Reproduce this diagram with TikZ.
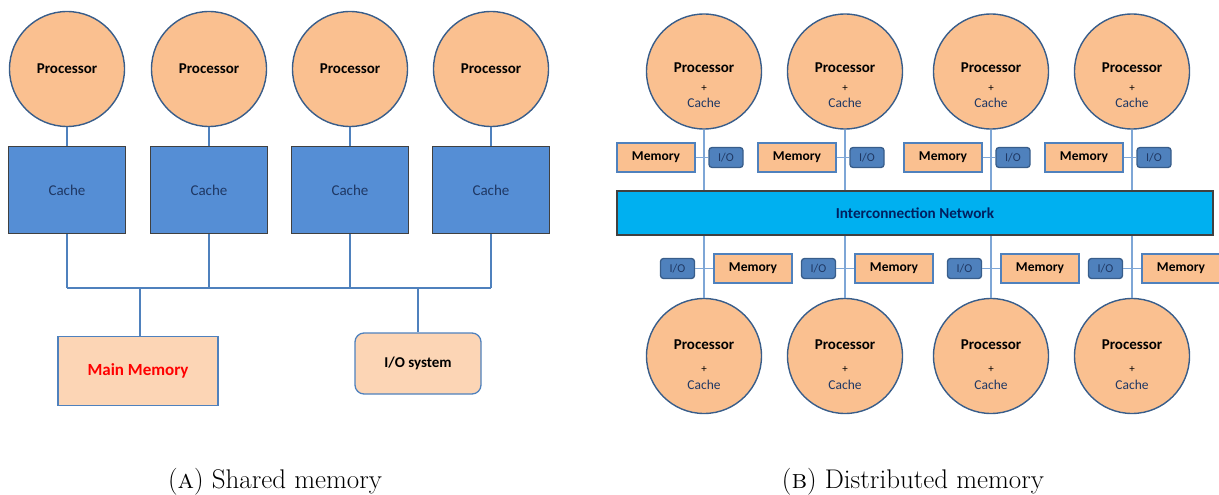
\documentclass[tikz,border=0pt]{standalone}
\usepackage{fontspec}
\newfontfamily\calibri{Carlito}
\definecolor{procfill}{HTML}{FAC090}
\definecolor{procline}{HTML}{385D8A}
\definecolor{cachefill}{HTML}{558ED5}
\definecolor{boxline}{HTML}{404040}
\definecolor{navytext}{HTML}{1F3864}
\definecolor{busline}{HTML}{4F81BD}
\definecolor{thinline}{HTML}{7EA6D6}
\definecolor{paleorange}{HTML}{FCD5B5}
\definecolor{netfill}{HTML}{00B0F0}
\definecolor{nettext}{HTML}{002060}
\tikzset{
  proc/.style={shape=circle,draw=procline,line width=1.4pt,fill=procfill,minimum size=115pt,inner sep=0pt},
  cache/.style={shape=rectangle,draw=boxline,line width=1.6pt,fill=cachefill,minimum width=117pt,minimum height=87pt,
    text=navytext,font=\calibri\fontsize{15}{18}\selectfont},
  link/.style={draw=busline,line width=1.3pt},
  bus/.style={draw=busline,line width=2.3pt},
  thin/.style={draw=thinline,line width=1.2pt},
  mem/.style={shape=rectangle,draw=busline,line width=1.3pt,fill=procfill,minimum width=78pt,minimum height=29pt,
    font=\calibri\bfseries\fontsize{13.5}{16}\selectfont},
  iobox/.style={shape=rectangle,rounded corners=3pt,draw=procline,line width=1.3pt,fill=busline,minimum width=34pt,minimum height=20pt,
    inner sep=0pt,text=navytext,font=\calibri\fontsize{12}{14}\selectfont},
  ptext/.style={align=center,font=\calibri\fontsize{15}{18}\selectfont},
  caption/.style={font=\fontsize{27}{32}\selectfont}
}
\begin{document}
\begin{tikzpicture}[x=1pt,y=-1pt]
\useasboundingbox (0,0) rectangle (1219,495);
% shared memory
\foreach \i/\x in {1/67,2/209,3/350,4/491}{
  \node(p\i) at (\x,69)[proc] {};
  \node at (p\i)[ptext] {\bfseries Processor};
  \node(c\i) at (\x,190)[cache] {Cache};
  \coordinate (b\i) at (\x,288);
  \draw[link] (p\i) -- (c\i);
  \draw[bus] (c\i) -- (b\i);
}
\draw[bus] (b1) -- (b4);
\node(mm) at (138,371)[shape=rectangle,draw=busline,line width=1.3pt,fill=paleorange,minimum width=160pt,minimum height=69pt,
  text=red,font=\calibri\bfseries\fontsize{17}{20}\selectfont] {Main Memory};
\node(ios) at (418,363.5)[shape=rectangle,rounded corners=9pt,draw=busline,line width=1.3pt,fill=paleorange,minimum width=126pt,minimum height=61pt,
  font=\calibri\bfseries\fontsize{15}{18}\selectfont] {I/O system};
\coordinate (mtap) at (140,288);
\coordinate (itap) at (418,288);
\draw[bus] (mtap) -- (mtap |- mm.north);
\draw[bus] (itap) -- (ios);
% distributed memory
\node(net) at (915,213)[shape=rectangle,draw=boxline,line width=1.6pt,fill=netfill,minimum width=596pt,minimum height=44pt,
  text=nettext,font=\calibri\bfseries\fontsize{15.2}{18}\selectfont] {Interconnection Network};
\foreach \i/\x in {1/704,2/845,3/991,4/1132}{
  \node(tp\i) at (\x,71.5)[proc] {};
  \node at ([yshift=-14pt]tp\i)[ptext] {\bfseries Processor\\[1pt]{\fontsize{11}{13}\selectfont +}\\[-2pt]{\color{navytext}\fontsize{13.5}{16}\selectfont Cache}};
  \node(tm\i) at (\x-48,157.5)[mem] {Memory};
  \node(ti\i) at (\x+22,157.5)[iobox] {I/O};
  \node(bp\i) at (\x,356)[proc] {};
  \node at ([yshift=-9pt]bp\i)[ptext] {\bfseries Processor\\[5pt]{\fontsize{11}{13}\selectfont +}\\[-1pt]{\color{navytext}\fontsize{13.5}{16}\selectfont Cache}};
  \node(bm\i) at (\x+49,268.5)[mem] {Memory};
  \node(bi\i) at (\x-26.5,268.5)[iobox] {I/O};
  \draw[thin] (tp\i) -- (tp\i |- net.north);
  \draw[thin] (tm\i) -- (ti\i);
  \draw[thin] (bp\i) -- (bp\i |- net.south);
  \draw[thin] (bi\i) -- (bm\i);
}
% captions
\node(capa) at (275,482)[caption] {(\textsc{a}) Shared memory};
\node(capb) at (913,482)[caption] {(\textsc{b}) Distributed memory};
\end{tikzpicture}
\end{document}
